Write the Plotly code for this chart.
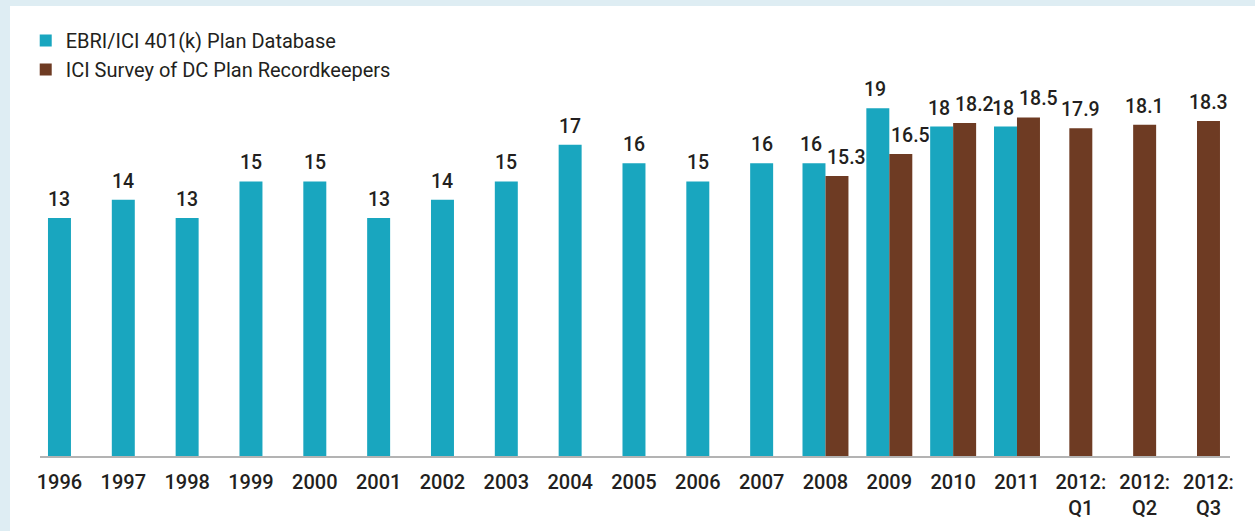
import plotly.graph_objects as go

categories = ["1996", "1997", "1998", "1999", "2000", "2001", "2002", "2003", "2004",
              "2005", "2006", "2007", "2008", "2009", "2010", "2011",
              "2012:<br>Q1", "2012:<br>Q2", "2012:<br>Q3"]
ebri_cats = categories[:16]
ebri_values = [13, 14, 13, 15, 15, 13, 14, 15, 17, 16, 15, 16, 16, 19, 18, 18]
ici_cats = categories[12:]
ici_values = [15.3, 16.5, 18.2, 18.5, 17.9, 18.1, 18.3]

BLUE = "#19a6bf"
BROWN = "#6e3b23"
TXT = "#231f20"
FONT = "Roboto, sans-serif"
W = 0.36

idx = {c: i for i, c in enumerate(categories)}
ebri_x = [idx[c] for c in ebri_cats]
ici_x = [idx[c] for c in ici_cats]
ici_set = set(ici_cats)
ebri_set = set(ebri_cats)
ebri_off = [-W if c in ici_set else -W / 2 for c in ebri_cats]
ici_off = [0 if c in ebri_set else -W / 2 for c in ici_cats]

fig = go.Figure()
fig.add_trace(go.Bar(
    x=ebri_x, y=ebri_values, width=W, offset=ebri_off,
    name="EBRI/ICI 401(k) Plan Database", marker_color=BLUE, marker_line_width=0,
))
fig.add_trace(go.Bar(
    x=ici_x, y=ici_values, width=W, offset=ici_off,
    name="ICI Survey of DC Plan Recordkeepers", marker_color=BROWN, marker_line_width=0,
))

label_font = dict(family=FONT, size=19.5, color=TXT, weight=500)
annotations = []
for c, x, off, v in zip(ebri_cats, ebri_x, ebri_off, ebri_values):
    paired = c in ici_set
    annotations.append(dict(
        x=x if paired else x + off + W / 2, y=v, xref="x", yref="y",
        text=f"{v:g}", showarrow=False, yanchor="bottom", yshift=5,
        xanchor="right" if paired else "center", xshift=-1 if paired else 0,
        font=label_font))
for c, x, off, v in zip(ici_cats, ici_x, ici_off, ici_values):
    paired = c in ebri_set
    annotations.append(dict(
        x=x if paired else x + off + W / 2, y=v, xref="x", yref="y",
        text=f"{v:.1f}", showarrow=False, yanchor="bottom", yshift=5,
        xanchor="left" if paired else "center", xshift=0,
        font=label_font))

fig.update_layout(
    width=1255, height=531,
    margin=dict(l=40, r=25, t=100, b=75),
    barmode="overlay",
    paper_bgcolor="#deedf3",
    plot_bgcolor="rgba(0,0,0,0)",
    font=dict(family=FONT, color=TXT),
    showlegend=True,
    annotations=annotations,
    legend=dict(x=-0.012, y=1.222, xanchor="left", yanchor="top",
                font=dict(family=FONT, size=20, color=TXT),
                bgcolor="rgba(0,0,0,0)", tracegroupgap=0, itemwidth=30),
    xaxis=dict(range=[-0.305, 18.337], tickmode="array",
               tickvals=list(range(len(categories))), ticktext=categories,
               showgrid=False, zeroline=False, showline=True, linecolor="#b3b3b3",
               linewidth=2, ticks="", ticklabelstandoff=7,
               tickfont=dict(family=FONT, size=20, color=TXT, weight=500)),
    yaxis=dict(range=[0, 19.45], visible=False, showgrid=False, zeroline=False),
    shapes=[dict(type="rect", xref="paper", yref="paper", layer="below",
                 x0=(10 - 40) / 1190, x1=1.05, y0=-0.3, y1=(456 - 6) / 356,
                 fillcolor="white", line_width=0)],
)

fig.write_html("out.html", config={"displayModeBar": False},
               post_script="document.body.style.margin='0';")
